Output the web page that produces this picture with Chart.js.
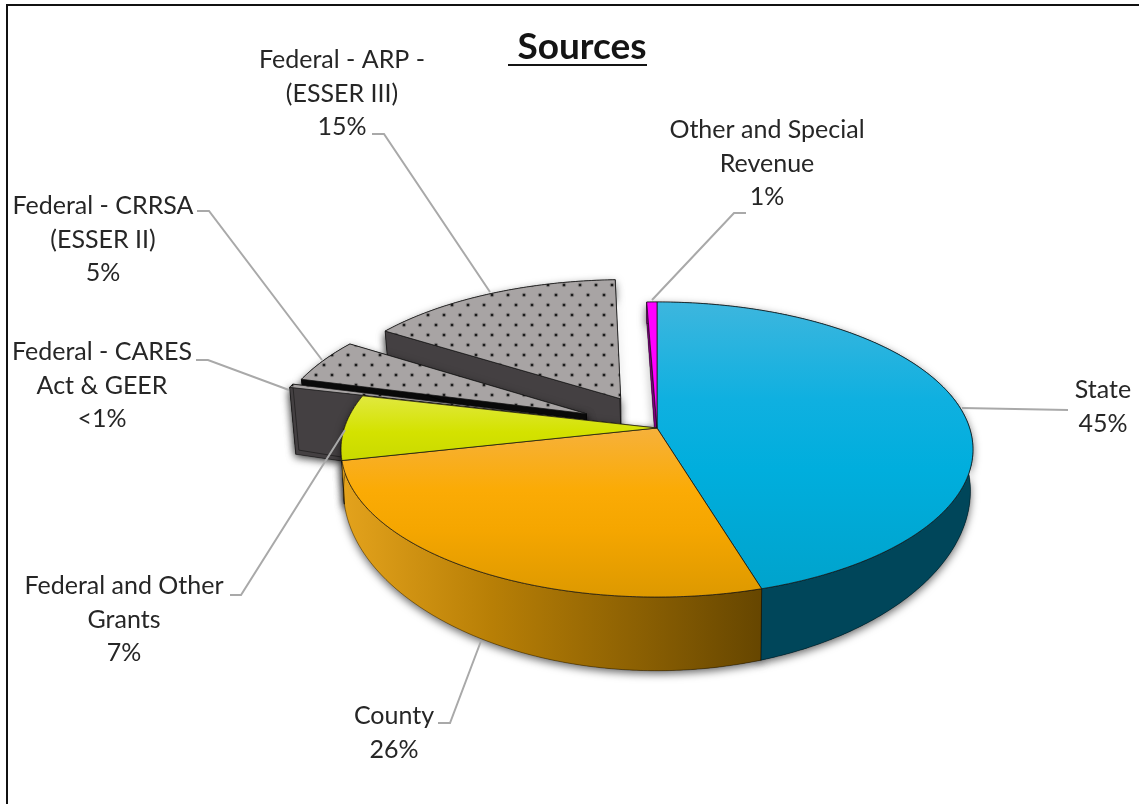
<!DOCTYPE html>
<html>
<head>
<meta charset="utf-8">
<title>Sources</title>
<style>
  body { margin: 0; background: #fff; }
  canvas { display: block; }
</style>
<script src="https://cdn.jsdelivr.net/npm/chart.js@4/dist/chart.umd.min.js"></script>
</head>
<body>
<canvas id="sourcesChart" width="1139" height="804"></canvas>
<script>
const chartTitle = 'Sources';
const categories = ['State', 'County', 'Federal and Other Grants', 'Federal - CARES Act & GEER', 'Federal - CRRSA (ESSER II)', 'Federal - ARP - (ESSER III)', 'Other and Special Revenue'];
const sourceValues = [45.35, 26.15, 7.2, 0.4, 4.9, 15.4, 0.6];
const percentLabels = ['45%', '26%', '7%', '<1%', '5%', '15%', '1%'];
const nameLines = [['State'], ['County'], ['Federal and Other', 'Grants'], ['Federal - CARES', 'Act & GEER'], ['Federal - CRRSA', '(ESSER II)'], ['Federal - ARP -', '(ESSER III)'], ['Other and Special', 'Revenue']];

// label centre x, first line y, then the leader line points
const labelPlaces = [
  { x: 1103, y: 390, leader: [[1068, 410], [962, 408]] },
  { x: 394, y: 716, leader: [[438, 723], [450, 723], [481, 641]] },
  { x: 124, y: 586, leader: [[230, 595], [241, 595], [345, 430]] },
  { x: 102, y: 352, leader: [[196, 360], [208, 360], [289, 390]] },
  { x: 103, y: 206, leader: [[197, 211], [209, 211], [322, 360]] },
  { x: 342, y: 60, leader: [[372, 134], [384, 134], [490, 292]] },
  { x: 767, y: 130, leader: [[746, 213], [734, 213], [652, 300]] }
];

// 3D look of the pie. The circle is pushed through a perspective map,
// numbers fitted so the rim hits the same spots as the picture
const apexX = 657, apexY = 428;
const scaleX = 312.6, scaleY = 144.4, tilt = -0.1458;
const explodedSlices = [5, 4, 3]; // far to near
const explodeBy = { 3: 0.26, 4: 0.25, 5: 0.24 };

// the grants wall only shows as a sliver next to the county wall, so it gets the county gold
const wallColors = ['#00465a', null, '#e3a21c', '#444042', '#0c0c0c', '#444042', '#7d007d'];

function project(u, v, drop) {
  const w = 1 + tilt * v;
  const x = apexX + scaleX * u / w * (1 - 0.008 * drop);
  let y = apexY + scaleY * v / w;
  if (drop) y += drop * 38 / Math.pow(w, 4.2);
  return [x, y];
}

function slicePoints(arc, index, drop) {
  const out = explodeBy[index] || 0;
  const mid = (arc.startAngle + arc.endAngle) / 2;
  const ou = Math.cos(mid) * out, ov = Math.sin(mid) * out;
  const pts = [];
  const steps = Math.max(2, Math.ceil((arc.endAngle - arc.startAngle) / 0.01));
  for (let i = 0; i <= steps; i++) {
    const a = arc.startAngle + (arc.endAngle - arc.startAngle) * i / steps;
    pts.push(project(Math.cos(a) + ou, Math.sin(a) + ov, drop));
  }
  return { rim: pts, apex: project(ou, ov, drop) };
}

function tracePoly(ctx, pts) {
  ctx.beginPath();
  pts.forEach((p, i) => i ? ctx.lineTo(p[0], p[1]) : ctx.moveTo(p[0], p[1]));
  ctx.closePath();
}

function makeDots(ctx) {
  const tile = document.createElement('canvas');
  tile.width = 16; tile.height = 20;
  const t = tile.getContext('2d');
  t.fillStyle = '#a8a4a4';
  t.fillRect(0, 0, 16, 20);
  [[4, 5], [12, 15]].forEach(d => {
    t.fillStyle = 'rgba(70,70,70,0.35)';
    t.beginPath(); t.arc(d[0], d[1], 2.3, 0, Math.PI * 2); t.fill();
    t.fillStyle = '#1c1c1c';
    t.beginPath(); t.arc(d[0], d[1], 1.3, 0, Math.PI * 2); t.fill();
  });
  return ctx.createPattern(tile, 'repeat');
}

function topFill(ctx, index, dots) {
  if (index >= 3 && index <= 5) return dots;
  if (index === 6) return '#ff00ff';
  const stops = {
    0: [[302, '#3db6de'], [400, '#0fb0e0'], [470, '#00aedd'], [590, '#00a3cc']],
    1: [[428, '#f6b13c'], [490, '#fbab05'], [530, '#f5a600'], [597, '#dd9900']],
    2: [[400, '#dfe838'], [432, '#d4e200'], [465, '#c8d800']]
  }[index];
  const top = stops[0][0], bottom = stops[stops.length - 1][0];
  const g = ctx.createLinearGradient(0, top, 0, bottom);
  stops.forEach(s => g.addColorStop((s[0] - top) / (bottom - top), s[1]));
  return g;
}

function wallFill(ctx, index) {
  if (index !== 1) return wallColors[index];
  const g = ctx.createLinearGradient(345, 0, 762, 0);
  g.addColorStop(0, '#e3a21c');
  g.addColorStop(0.35, '#b87f06');
  g.addColorStop(1, '#664600');
  return g;
}

function drawWalls(ctx, arc, index, part, shadowPass) {
  const depth = index === 3 ? 2.1 : 1; // the thin CARES slab hangs lower in the picture
  const top = slicePoints(arc, index, 0);
  const low = slicePoints(arc, index, depth);
  const last = top.rim.length - 1;
  const walls = part === 'rim'
    ? [top.rim.concat(low.rim.slice().reverse())]
    : [[top.apex, top.rim[0], low.rim[0], low.apex], [top.apex, top.rim[last], low.rim[last], low.apex]];
  ctx.save();
  if (shadowPass) {
    ctx.shadowColor = 'rgba(0,0,0,0.6)';
    ctx.shadowBlur = 9;
    ctx.shadowOffsetX = 0;
    ctx.shadowOffsetY = 3;
  }
  ctx.fillStyle = wallFill(ctx, index);
  ctx.strokeStyle = 'rgba(0,0,0,0.4)';
  ctx.lineWidth = 1;
  walls.forEach(w => {
    tracePoly(ctx, w);
    ctx.fill();
    if (!shadowPass) ctx.stroke();
  });
  ctx.restore();
}

function drawTop(ctx, arc, index, dots) {
  const top = slicePoints(arc, index, 0);
  tracePoly(ctx, [top.apex].concat(top.rim));
  ctx.fillStyle = topFill(ctx, index, dots);
  ctx.fill();
  ctx.strokeStyle = 'rgba(20,20,20,0.75)';
  ctx.lineWidth = 1;
  ctx.stroke();
}

const pie3dPlugin = {
  id: 'pie3d',
  beforeDatasetDraw(chart) {
    const ctx = chart.ctx;
    const arcs = chart.getDatasetMeta(0).data;
    const dots = makeDots(ctx);
    const main = arcs.map((a, i) => i).filter(i => !explodedSlices.includes(i));

    ctx.save();
    explodedSlices.forEach(i => {
      drawWalls(ctx, arcs[i], i, 'rim', true);
      drawWalls(ctx, arcs[i], i, 'cut', true);
      drawWalls(ctx, arcs[i], i, 'rim', false);
      drawWalls(ctx, arcs[i], i, 'cut', false);
      drawTop(ctx, arcs[i], i, dots);
    });
    // cut walls first so the outer wall hides them at the front
    main.forEach(i => drawWalls(ctx, arcs[i], i, 'cut', true));
    main.forEach(i => drawWalls(ctx, arcs[i], i, 'rim', true));
    main.forEach(i => drawWalls(ctx, arcs[i], i, 'cut', false));
    main.forEach(i => drawWalls(ctx, arcs[i], i, 'rim', false));
    main.forEach(i => drawTop(ctx, arcs[i], i, dots));
    ctx.restore();
    return false; // the library's own flat arcs are replaced by the above
  }
};

const framePlugin = {
  id: 'frame',
  beforeDatasetsDraw(chart) {
    const ctx = chart.ctx;
    ctx.save();
    ctx.fillStyle = '#fff';
    ctx.fillRect(0, 0, 1139, 804);
    ctx.fillStyle = '#111';
    ctx.fillRect(6, 4, 2, 800);
    ctx.fillRect(6, 4, 1133, 2);
    ctx.restore();
  },
  afterDatasetsDraw(chart) {
    const ctx = chart.ctx;
    ctx.save();
    ctx.strokeStyle = '#a9a9a9';
    ctx.lineWidth = 2;
    labelPlaces.forEach(place => {
      ctx.beginPath();
      place.leader.forEach((p, i) => i ? ctx.lineTo(p[0], p[1]) : ctx.moveTo(p[0], p[1]));
      ctx.stroke();
    });

    ctx.fillStyle = '#262626';
    ctx.textAlign = 'center';
    ctx.textBaseline = 'middle';
    ctx.font = '25px Lato';
    labelPlaces.forEach((place, i) => {
      nameLines[i].concat(percentLabels[i]).forEach((line, n) => {
        ctx.fillText(line, place.x, place.y + n * 33.6);
      });
    });

    // title, the underline starts a little before the word
    ctx.fillStyle = '#141414';
    ctx.font = 'bold 37px Lato';
    ctx.fillText(chartTitle, 582, 47);
    ctx.fillRect(508, 64, 139, 2);
    ctx.restore();
  }
};

new Chart(document.getElementById('sourcesChart'), {
  type: 'pie',
  data: {
    labels: categories,
    datasets: [{ data: sourceValues, borderWidth: 0 }]
  },
  options: {
    responsive: false,
    animation: false,
    events: [],
    plugins: { legend: { display: false }, title: { display: false }, tooltip: { enabled: false } }
  },
  plugins: [framePlugin, pie3dPlugin]
});
</script>
</body>
</html>
